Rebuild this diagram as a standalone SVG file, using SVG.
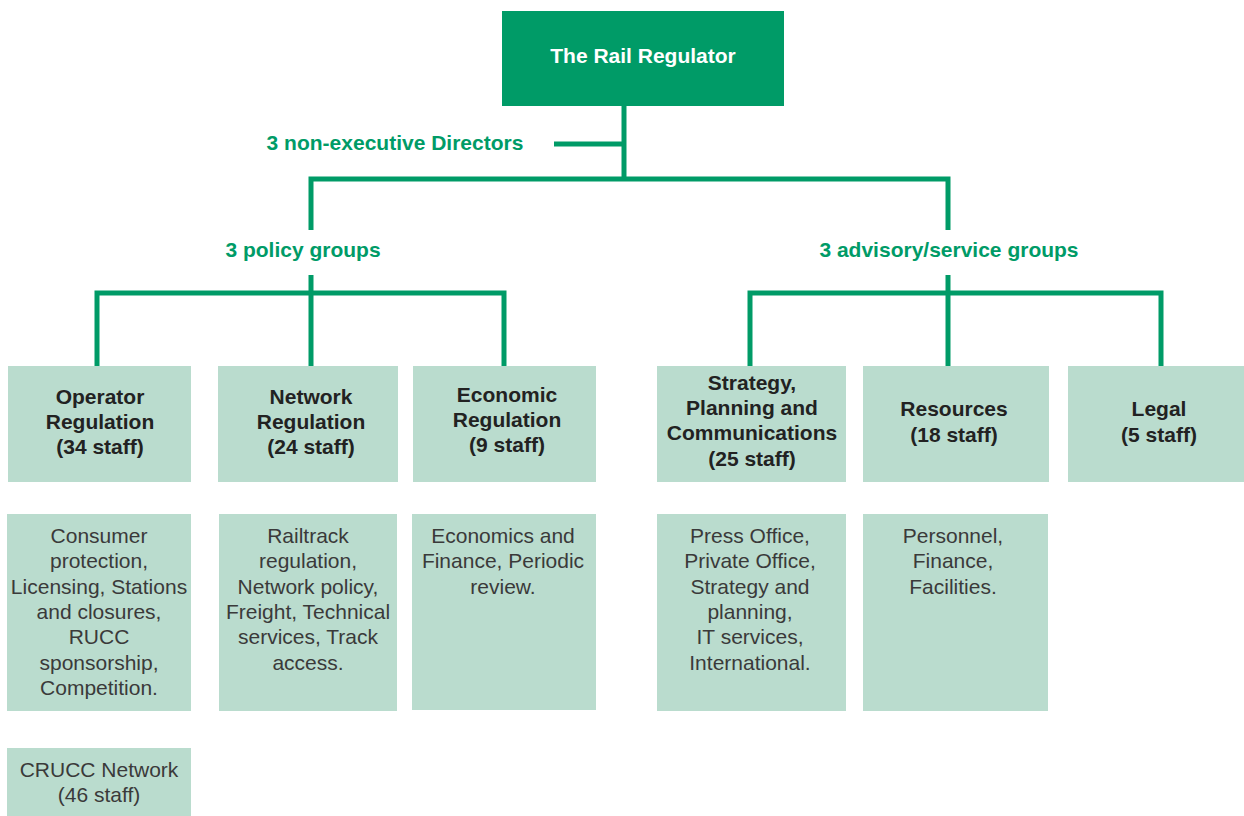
<svg xmlns="http://www.w3.org/2000/svg" width="1244" height="816" viewBox="0 0 1244 816">
  <style>
    .top { fill: #009b67; }
    .box { fill: #badcce; }
    .wire { fill: none; stroke: #009b67; stroke-width: 5; stroke-linejoin: miter; }
    .title { font-family: "Liberation Sans", Arial, sans-serif; font-weight: bold; font-size: 21px; fill: #ffffff; text-anchor: middle; }
    .glabel { font-family: "Liberation Sans", Arial, sans-serif; font-weight: bold; font-size: 21px; fill: #009b67; text-anchor: middle; }
    .head { font-family: "Liberation Sans", Arial, sans-serif; font-weight: bold; font-size: 21px; fill: #222222; text-anchor: middle; }
    .body { font-family: "Liberation Sans", Arial, sans-serif; font-size: 21px; fill: #3a3a3a; text-anchor: middle; }
  </style>

  <rect width="1244" height="816" fill="#ffffff"/>

  <!-- connectors -->
  <g id="connectors">
    <path class="wire" d="M624,106 V179"/>
    <path class="wire" d="M554,144 H624"/>
    <path class="wire" d="M311,230 V179 H948 V230"/>
    <path class="wire" d="M97,366 V293 H504 V366"/>
    <path class="wire" d="M311,275 V366"/>
    <path class="wire" d="M750,366 V293 H1161 V366"/>
    <path class="wire" d="M948,275 V366"/>
  </g>

  <!-- group labels -->
  <g id="labels">
    <text class="glabel" x="395" y="150">3 non-executive Directors</text>
    <text class="glabel" x="303" y="257">3 policy groups</text>
    <text class="glabel" x="949" y="257">3 advisory/service groups</text>
  </g>

  <g id="rail-regulator">
    <rect class="top" x="502" y="11" width="282" height="95"/>
    <text class="title" x="643" y="63">The Rail Regulator</text>
  </g>

  <g id="operator-regulation">
    <rect class="box" x="8" y="366" width="183" height="116"/>
    <text class="head" x="100" y="404">Operator</text>
    <text class="head" x="100" y="429">Regulation</text>
    <text class="head" x="100" y="454">(34 staff)</text>
  </g>

  <g id="network-regulation">
    <rect class="box" x="218" y="366" width="180" height="116"/>
    <text class="head" x="311" y="404">Network</text>
    <text class="head" x="311" y="429">Regulation</text>
    <text class="head" x="311" y="454">(24 staff)</text>
  </g>

  <g id="economic-regulation">
    <rect class="box" x="413" y="366" width="183" height="116"/>
    <text class="head" x="507" y="402">Economic</text>
    <text class="head" x="507" y="427">Regulation</text>
    <text class="head" x="507" y="452">(9 staff)</text>
  </g>

  <g id="strategy-planning">
    <rect class="box" x="657" y="366" width="189" height="116"/>
    <text class="head" x="752" y="390">Strategy,</text>
    <text class="head" x="752" y="415">Planning and</text>
    <text class="head" x="752" y="440">Communications</text>
    <text class="head" x="752" y="466">(25 staff)</text>
  </g>

  <g id="resources">
    <rect class="box" x="863" y="366" width="186" height="116"/>
    <text class="head" x="954" y="416">Resources</text>
    <text class="head" x="954" y="442">(18 staff)</text>
  </g>

  <g id="legal">
    <rect class="box" x="1068" y="366" width="182" height="116"/>
    <text class="head" x="1159" y="416">Legal</text>
    <text class="head" x="1159" y="442">(5 staff)</text>
  </g>

  <g id="operator-duties">
    <rect class="box" x="7" y="514" width="184" height="197"/>
    <text class="body" x="99" y="543">Consumer</text>
    <text class="body" x="99" y="568">protection,</text>
    <text class="body" x="99" y="594">Licensing, Stations</text>
    <text class="body" x="99" y="619">and closures,</text>
    <text class="body" x="99" y="644">RUCC</text>
    <text class="body" x="99" y="670">sponsorship,</text>
    <text class="body" x="99" y="695">Competition.</text>
  </g>

  <g id="network-duties">
    <rect class="box" x="219" y="514" width="178" height="197"/>
    <text class="body" x="308" y="543">Railtrack</text>
    <text class="body" x="308" y="568">regulation,</text>
    <text class="body" x="308" y="594">Network policy,</text>
    <text class="body" x="308" y="619">Freight, Technical</text>
    <text class="body" x="308" y="644">services, Track</text>
    <text class="body" x="308" y="670">access.</text>
  </g>

  <g id="economic-duties">
    <rect class="box" x="412" y="514" width="184" height="196"/>
    <text class="body" x="503" y="543">Economics and</text>
    <text class="body" x="503" y="568">Finance, Periodic</text>
    <text class="body" x="503" y="594">review.</text>
  </g>

  <g id="strategy-duties">
    <rect class="box" x="657" y="514" width="189" height="197"/>
    <text class="body" x="750" y="543">Press Office,</text>
    <text class="body" x="750" y="568">Private Office,</text>
    <text class="body" x="750" y="594">Strategy and</text>
    <text class="body" x="750" y="619">planning,</text>
    <text class="body" x="750" y="644">IT services,</text>
    <text class="body" x="750" y="670">International.</text>
  </g>

  <g id="resources-duties">
    <rect class="box" x="863" y="514" width="185" height="197"/>
    <text class="body" x="953" y="543">Personnel,</text>
    <text class="body" x="953" y="568">Finance,</text>
    <text class="body" x="953" y="594">Facilities.</text>
  </g>

  <g id="crucc-network">
    <rect class="box" x="7" y="748" width="184" height="68"/>
    <text class="body" x="99" y="777">CRUCC Network</text>
    <text class="body" x="99" y="802">(46 staff)</text>
  </g>
</svg>
